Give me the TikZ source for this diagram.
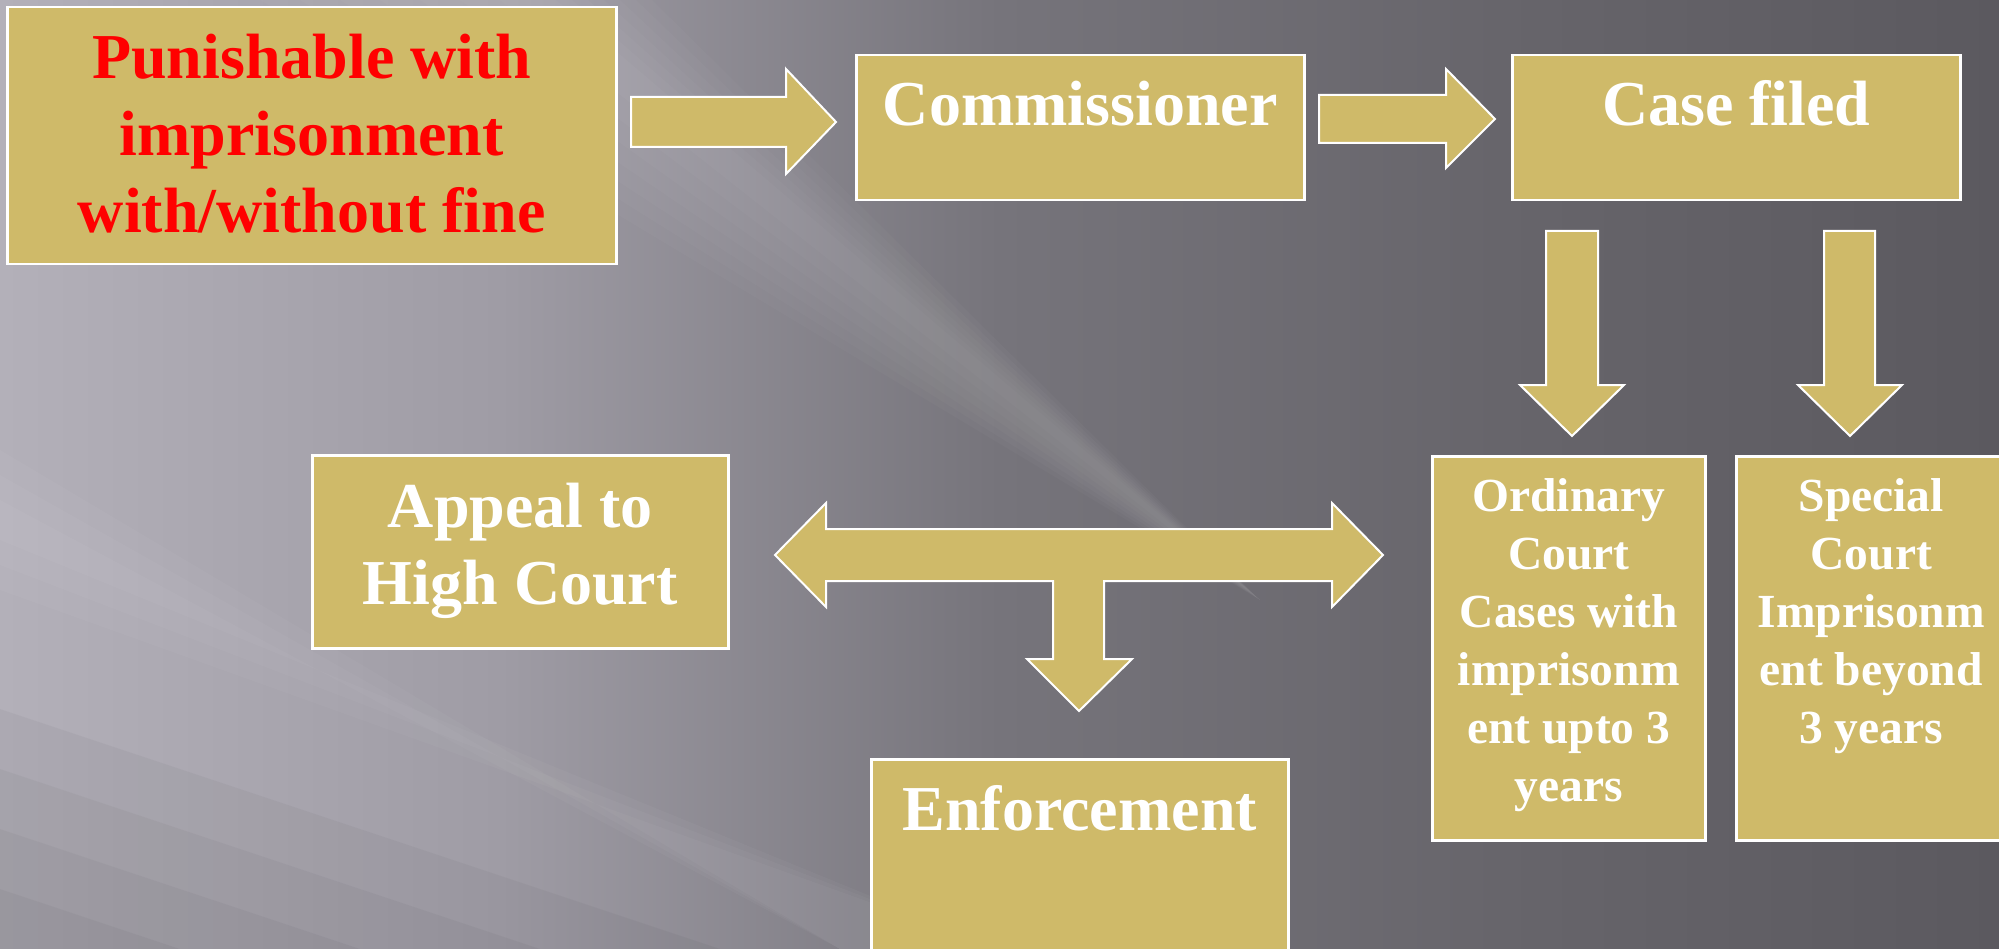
\documentclass[tikz,border=0pt]{standalone}
\usepackage{fontspec}
\setmainfont{Liberation Serif}
\usetikzlibrary{positioning}
\definecolor{BoxGold}    {HTML}{CFBA69}
\definecolor{BgLight}    {HTML}{B3B0B9}
\definecolor{BgLightTwo} {HTML}{9F9CA5}
\definecolor{BgMid}      {HTML}{76747B}
\definecolor{BgMidTwo}   {HTML}{67656B}
\definecolor{BgDark}     {HTML}{5B595F}
\definecolor{PenaltyRed} {HTML}{FF0000}
\pgfdeclarehorizontalshading{slidebg}{100bp}{color(0bp)=(BgLight); color(25bp)=(BgLight);
  color(37.5bp)=(BgLightTwo); color(50bp)=(BgMid); color(62.5bp)=(BgMidTwo);
  color(75bp)=(BgDark); color(100bp)=(BgDark)}

\begin{document}
\begin{tikzpicture}[x=1pt,y=-1pt,
    goldbox/.style={draw=white,line width=2.5pt,fill=BoxGold,anchor=north west,inner sep=0pt},
    bigtext/.style={text=white,font=\bfseries\fontsize{64}{77}\selectfont,align=flush center,anchor=base,inner sep=0pt},
    smalltext/.style={text=white,font=\bfseries\fontsize{47.5}{58}\selectfont,align=flush center,anchor=base,inner sep=0pt},
    blockarrow/.style={draw=white,line width=2pt,fill=BoxGold,line join=miter}]
    % background
    \clip (0,0) rectangle (1999,949);
    \shade[shading=slidebg] (0,0) rectangle (1999,949);
    \foreach \w in {40,80,120,160,200,240,280}
      \fill[white,opacity=0.025] (540-\w,0) -- (540+0.4*\w,0) -- (1260,600) -- cycle;
    \foreach \w in {20,45,70}
      \fill[white,opacity=0.03] (0,520-\w) -- (0,520+\w) -- (1000,949) -- (840,949) -- cycle;
    \foreach \w in {60,120,180,240}
      \fill[black,opacity=0.035] (0,949-\w) -- (0,949) -- (3*\w,949) -- cycle;

    % boxes
    \node[goldbox,minimum width=609pt,minimum height=257pt] (punish) at (6,6) {};
    \node[goldbox,minimum width=448pt,minimum height=145pt] (commish) at (855,54) {};
    \node[goldbox,minimum width=448pt,minimum height=145pt] (casefiled) at (1511,54) {};
    \node[goldbox,minimum width=416pt,minimum height=193pt] (appeal) at (311,454) {};
    \node[goldbox,minimum width=417pt,minimum height=260pt] (enforce) at (870,758) {};
    \node[goldbox,minimum width=273pt,minimum height=384pt] (ordinary) at (1431,455) {};
    \node[goldbox,minimum width=270pt,minimum height=384pt] (special) at (1735,455) {};

    % texts
    \node[bigtext,text=PenaltyRed,text width=600pt] (punishtxt) at ([yshift=-73pt]punish.north)
      {Punishable with\\imprisonment\\with/without fine};
    \node[bigtext,text width=440pt] (commishtxt) at ([yshift=-72pt]commish.north) {Commissioner};
    \node[bigtext,text width=440pt] (casetxt) at ([yshift=-72pt]casefiled.north) {Case filed};
    \node[bigtext,text width=410pt] (appealtxt) at ([yshift=-73pt]appeal.north) {Appeal to\\High Court};
    \node[bigtext,text width=410pt] (enforcetxt) at ([yshift=-72pt]enforce.north) {Enforcement};
    \node[smalltext,text width=268pt] (ordinarytxt) at ([yshift=-56pt]ordinary.north)
      {Ordinary\\Court\\Cases with\\imprisonm\\ent upto 3\\years};
    \node[smalltext,text width=265pt] (specialtxt) at ([yshift=-56pt]special.north)
      {Special\\Court\\Imprisonm\\ent beyond\\3 years};

    % block arrows
    \draw[blockarrow] (631,97) -- (786,97) -- (786,69) -- (836,122) -- (786,174) -- (786,147) -- (631,147) -- cycle;
    \draw[blockarrow] (1319,95) -- (1446,95) -- (1446,69) -- (1495,119) -- (1446,168) -- (1446,143) -- (1319,143) -- cycle;
    \draw[blockarrow] (1546,231) -- (1598,231) -- (1598,385) -- (1624,385) -- (1572,436) -- (1520,385) -- (1546,385) -- cycle;
    \draw[blockarrow] (1824,231) -- (1875,231) -- (1875,385) -- (1902,385) -- (1850,436) -- (1798,385) -- (1824,385) -- cycle;
    \draw[blockarrow] (775,555) -- (826,503) -- (826,529) -- (1332,529) -- (1332,503) -- (1383,555)
      -- (1332,607) -- (1332,581) -- (1104,581) -- (1104,659) -- (1132,659) -- (1079,711)
      -- (1027,659) -- (1053,659) -- (1053,581) -- (826,581) -- (826,607) -- cycle;
  \end{tikzpicture}
\end{document}
